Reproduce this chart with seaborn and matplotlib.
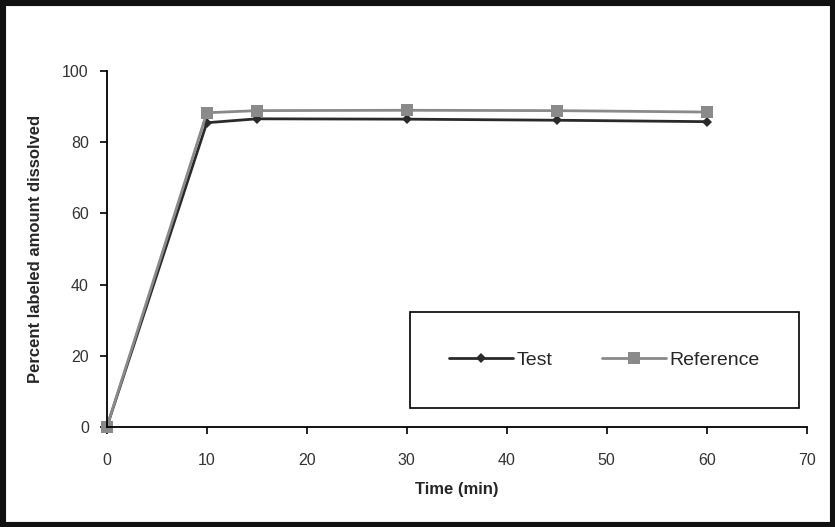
import pandas as pd
import seaborn as sns
import matplotlib.pyplot as plt
from matplotlib.patches import Rectangle

time_min = [0, 10, 15, 30, 45, 60]
test_vals = [0, 85.5, 86.6, 86.5, 86.2, 85.8]
reference_vals = [0, 88.3, 88.9, 89.0, 88.9, 88.5]
series_names = ["Test", "Reference"]

datos = pd.DataFrame({
    "Time (min)": time_min * 2,
    "Percent": test_vals + reference_vals,
    "Serie": [series_names[0]] * len(time_min) + [series_names[1]] * len(time_min),
})

sns.set_style("white")
plt.rcParams["font.family"] = ["Liberation Sans", "DejaVu Sans"]

fig = plt.figure(figsize=(8.35, 5.27), dpi=100)
ax = fig.add_axes([0.128, 0.190, 0.838, 0.675])

sns.lineplot(datos,
             x="Time (min)",
             y="Percent",
             hue="Serie",
             style="Serie",
             palette={"Test": "#2a2a2a", "Reference": "#8a8a8a"},
             markers={"Test": "D", "Reference": "s"},
             dashes=False,
             markersize=7,
             markeredgewidth=0,
             linewidth=2,
             ax=ax)

for line in ax.get_lines():
    if line.get_marker() == "s":
        line.set_markersize(9)
    elif line.get_marker() == "D":
        line.set_markersize(5)

ax.set_xlim(0, 70)
ax.set_ylim(0, 100)
ax.set_xticks(range(0, 71, 10))
ax.set_yticks(range(0, 101, 20))
ax.set_xlabel("Time (min)", fontsize=12, fontweight="bold", labelpad=10)
ax.set_ylabel("Percent labeled amount dissolved", fontsize=12, fontweight="bold", labelpad=14)
ax.tick_params(axis="both", direction="out", length=5, width=1.2, colors="black",
               labelcolor="#333333", labelsize=11.5, bottom=True, left=True)
ax.tick_params(axis="x", pad=14)
ax.tick_params(axis="y", pad=8)
for side in ["top", "right"]:
    ax.spines[side].set_visible(False)
for side in ["left", "bottom"]:
    ax.spines[side].set_color("black")
    ax.spines[side].set_linewidth(1.3)
ax.margins(0)
for line in ax.get_lines():
    line.set_clip_on(False)

handles, labels = ax.get_legend_handles_labels()
leg = ax.legend(handles, labels, ncol=2, loc="center",
                bbox_to_anchor=(0.711, 0.188),
                fontsize=14, handlelength=3.3, handletextpad=0.2,
                columnspacing=2.5, borderpad=2.0, fancybox=False,
                edgecolor="black", framealpha=1)
leg.get_frame().set_linewidth(1.2)

fig.patches.append(Rectangle((0, 0), 1, 1, transform=fig.transFigure,
                             fill=False, edgecolor="#111111", linewidth=8))

fig.savefig("out.png", dpi=100)
